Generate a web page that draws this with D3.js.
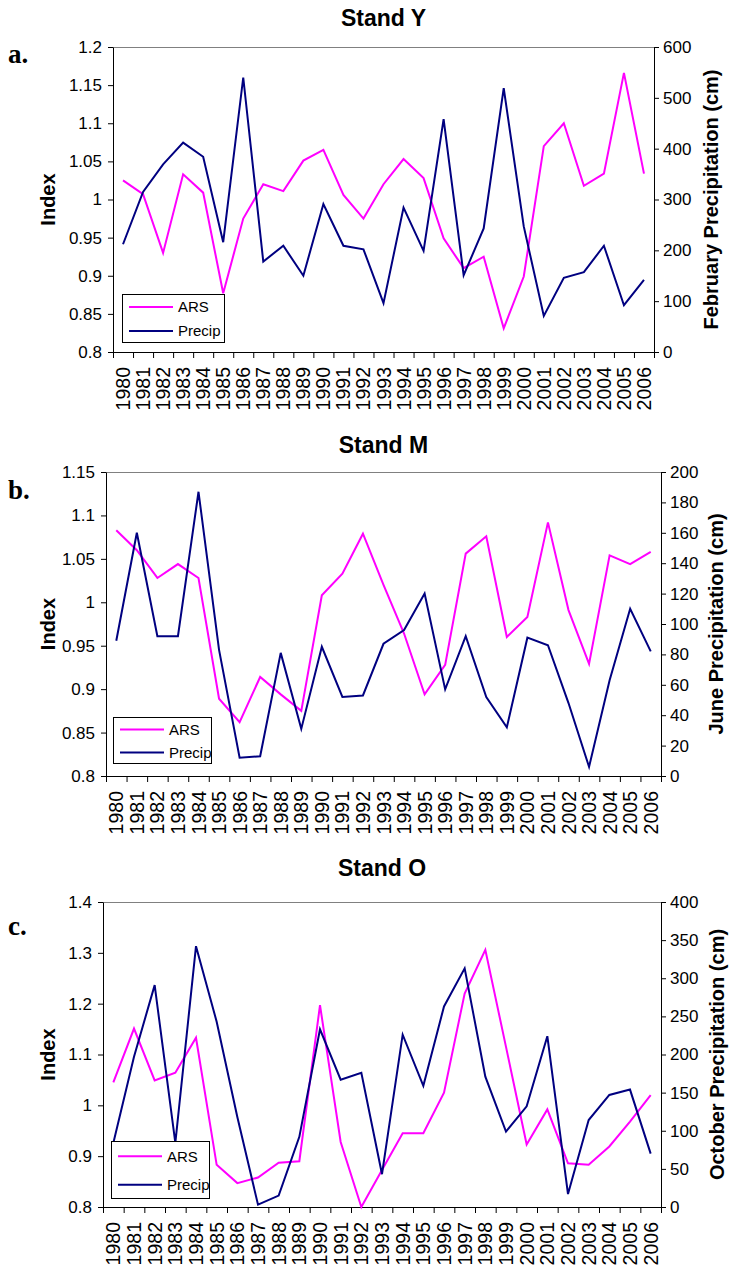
<!DOCTYPE html>
<html>
<head>
<meta charset="utf-8">
<script src="https://cdn.jsdelivr.net/npm/d3@7"></script>
<style>
  body { margin: 0; background: #fff; }
  svg { display: block; }
  text { font-family: "Liberation Sans", Arial, sans-serif; fill: #000; }
</style>
</head>
<body>
<svg id="chart" width="730" height="1270"></svg>
<script>
// anni (categorie comuni ai tre grafici)
const years = [1980, 1981, 1982, 1983, 1984, 1985, 1986, 1987, 1988, 1989, 1990, 1991, 1992, 1993,
  1994, 1995, 1996, 1997, 1998, 1999, 2000, 2001, 2002, 2003, 2004, 2005, 2006];

// Stand Y - indice ARS e precipitazioni di febbraio
const arsY = [1.025, 1.007, 0.930, 1.033, 1.009, 0.877, 0.975, 1.020, 1.011, 1.051, 1.065, 1.006, 0.975, 1.020,
  1.053, 1.028, 0.949, 0.910, 0.925, 0.831, 0.899, 1.070, 1.100, 1.018, 1.034, 1.166, 1.034];
const precipY = [212, 315, 369, 412, 384, 216, 540, 178, 209, 150, 291, 209, 202, 96,
  284, 199, 458, 151, 243, 519, 247, 71, 146, 157, 209, 92, 142];

// Stand M - indice ARS e precipitazioni di giugno
const arsM = [1.083, 1.060, 1.028, 1.044, 1.028, 0.889, 0.862, 0.914, 0.894, 0.875, 1.008, 1.033, 1.079, 1.020,
  0.964, 0.894, 0.928, 1.056, 1.076, 0.960, 0.983, 1.092, 0.991, 0.929, 1.054, 1.044, 1.058];
const precipM = [89, 160, 92, 92, 187, 83, 12, 13, 81, 31, 85, 52, 53, 87,
  96, 120, 57, 92, 52, 32, 91, 86, 48, 6, 63, 110, 82];

// Stand O - indice ARS e precipitazioni di ottobre
const arsO = [1.045, 1.151, 1.049, 1.064, 1.133, 0.883, 0.847, 0.858, 0.887, 0.890, 1.197, 0.928, 0.800, 0.873,
  0.945, 0.945, 1.025, 1.220, 1.306, 1.115, 0.923, 0.992, 0.886, 0.883, 0.919, 0.968, 1.020];
const precipO = [84, 197, 291, 84, 342, 243, 118, 3, 15, 92, 233, 167, 176, 43,
  226, 159, 263, 313, 171, 99, 132, 224, 17, 114, 147, 154, 70];

// etichette degli assi
const indexTicksY = [0.8, 0.85, 0.9, 0.95, 1, 1.05, 1.1, 1.15, 1.2];
const precipTicksY = [0, 100, 200, 300, 400, 500, 600];
const indexTicksM = [0.8, 0.85, 0.9, 0.95, 1, 1.05, 1.1, 1.15];
const precipTicksM = [0, 20, 40, 60, 80, 100, 120, 140, 160, 180, 200];
const indexTicksO = [0.8, 0.9, 1, 1.1, 1.2, 1.3, 1.4];
const precipTicksO = [0, 50, 100, 150, 200, 250, 300, 350, 400];

const seriesNames = ["ARS", "Precip"];
const colors = { ARS: "#ff00ff", Precip: "#000080" };

const svg = d3.select("#chart");

/* ogni pannello: posizione dell'area del grafico, scale e legenda */
const panels = [
  { letter: "a.", title: "Stand Y", rightTitle: "February Precipitation (cm)",
    ars: arsY, precip: precipY, indexTicks: indexTicksY, precipTicks: precipTicksY,
    left: 113, right: 654, top: 47, bottom: 352, rightTitleX: 718,
    titleY: 18, letterY: 63, leg: { x: 122, y: 294, w: 102, h: 48 } },
  { letter: "b.", title: "Stand M", rightTitle: "June Precipitation (cm)",
    ars: arsM, precip: precipM, indexTicks: indexTicksM, precipTicks: precipTicksM,
    left: 106, right: 661, top: 472, bottom: 776, rightTitleX: 723,
    titleY: 445, letterY: 499, leg: { x: 113, y: 717, w: 98, h: 46 } },
  { letter: "c.", title: "Stand O", rightTitle: "October Precipitation (cm)",
    ars: arsO, precip: precipO, indexTicks: indexTicksO, precipTicks: precipTicksO,
    left: 103, right: 661, top: 902, bottom: 1207, rightTitleX: 724,
    titleY: 868, letterY: 935, leg: { x: 111, y: 1141, w: 98, h: 57 } }
];

function drawPanel(p) {
  const g = svg.append("g");

  /* scala delle categorie (anni) */
  const x = d3.scaleBand()
    .domain(years)
    .range([p.left, p.right])
    .padding(0);
  const cx = d => x(d) + x.bandwidth() / 2;

  /* scala dell'indice (asse sinistro) e delle precipitazioni (asse destro) */
  const yIdx = d3.scaleLinear()
    .domain(d3.extent(p.indexTicks))
    .range([p.bottom, p.top]);
  const yPr = d3.scaleLinear()
    .domain(d3.extent(p.precipTicks))
    .range([p.bottom, p.top]);

  // bordo superiore grigio
  g.append("line")
    .attr("x1", p.left).attr("x2", p.right)
    .attr("y1", p.top + 0.5).attr("y2", p.top + 0.5)
    .attr("stroke", "#808080").attr("stroke-width", 1);

  // asse sinistro
  const gl = g.append("g")
    .attr("transform", `translate(${p.left},0)`)
    .call(d3.axisLeft(yIdx).tickValues(p.indexTicks).tickSize(5).tickSizeOuter(0)
      .tickFormat(d => String(+d.toFixed(2))));
  gl.selectAll("text").attr("font-size", 17).attr("x", -11)
    .style("font-family", '"Liberation Sans", Arial, sans-serif');

  // asse destro
  const gr = g.append("g")
    .attr("transform", `translate(${p.right},0)`)
    .call(d3.axisRight(yPr).tickValues(p.precipTicks).tickSize(5).tickSizeOuter(0));
  gr.selectAll("text").attr("font-size", 17).attr("x", 9)
    .style("font-family", '"Liberation Sans", Arial, sans-serif');

  // asse X: tacche ai confini delle categorie
  const xEdges = d3.scaleLinear().domain([0, years.length]).range([p.left, p.right]);
  g.append("g")
    .attr("transform", `translate(0,${p.bottom})`)
    .call(d3.axisBottom(xEdges).tickValues(d3.range(0, years.length + 1)).tickFormat("").tickSize(6).tickSizeOuter(0));

  g.selectAll("path.domain").attr("stroke", "#000");
  g.selectAll(".tick line").attr("stroke", "#000");

  // etichette degli anni ruotate
  g.selectAll("text.year")
    .data(years)
    .enter()
    .append("text")
    .attr("class", "year")
    .attr("transform", d => `translate(${cx(d)},${p.bottom + 15}) rotate(-90)`)
    .attr("text-anchor", "end")
    .attr("dy", "0.36em")
    .attr("font-size", 19.5)
    .text(d => d);

  // linee delle serie
  const lineArs = d3.line().x((d, i) => cx(years[i])).y(d => yIdx(d));
  const linePr = d3.line().x((d, i) => cx(years[i])).y(d => yPr(d));

  g.append("path")
    .datum(p.ars)
    .attr("d", lineArs)
    .attr("fill", "none")
    .attr("stroke", colors.ARS)
    .attr("stroke-width", 2)
    .attr("stroke-linejoin", "miter");

  g.append("path")
    .datum(p.precip)
    .attr("d", linePr)
    .attr("fill", "none")
    .attr("stroke", colors.Precip)
    .attr("stroke-width", 2)
    .attr("stroke-linejoin", "miter");

  // titolo del pannello
  g.append("text")
    .attr("x", (p.left + p.right) / 2)
    .attr("y", p.titleY)
    .attr("dy", "0.35em")
    .attr("text-anchor", "middle")
    .attr("font-size", 23)
    .attr("font-weight", "bold")
    .text(p.title);

  // lettera del pannello
  g.append("text")
    .attr("x", 8)
    .attr("y", p.letterY)
    .attr("font-size", 27)
    .attr("font-weight", "bold")
    .style("font-family", '"Liberation Serif", "Times New Roman", serif')
    .text(p.letter);

  // titoli degli assi
  const midY = (p.top + p.bottom) / 2;
  g.append("text")
    .attr("transform", `translate(48,${midY}) rotate(-90)`)
    .attr("text-anchor", "middle")
    .attr("dy", "0.35em")
    .attr("font-size", 20)
    .attr("font-weight", "bold")
    .text("Index");

  g.append("text")
    .attr("transform", `translate(${p.rightTitleX},${midY}) rotate(-90)`)
    .attr("text-anchor", "middle")
    .attr("font-size", 20)
    .attr("font-weight", "bold")
    .text(p.rightTitle);

  // legenda
  const leg = g.append("g").attr("transform", `translate(${p.leg.x},${p.leg.y})`);
  leg.append("rect")
    .attr("x", 0.5).attr("y", 0.5)
    .attr("width", p.leg.w).attr("height", p.leg.h)
    .attr("fill", "#fff").attr("stroke", "#000").attr("stroke-width", 1);
  const rowH = p.leg.h / 2;
  seriesNames.forEach((name, i) => {
    const yy = rowH * (i + 0.5) + 1;
    leg.append("line")
      .attr("x1", 7).attr("x2", 51)
      .attr("y1", yy).attr("y2", yy)
      .attr("stroke", colors[name]).attr("stroke-width", 2);
    leg.append("text")
      .attr("x", 56).attr("y", yy)
      .attr("dy", "0.36em")
      .attr("font-size", 15)
      .text(name);
  });
}

panels.forEach(drawPanel);
</script>
</body>
</html>
